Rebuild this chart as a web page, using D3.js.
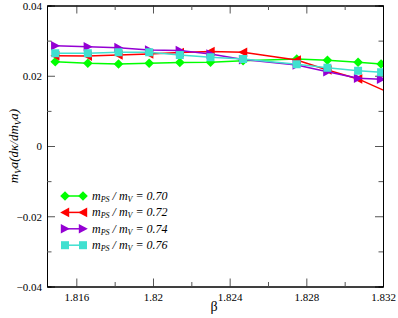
<!DOCTYPE html>
<html>
<head>
<meta charset="utf-8">
<script src="https://cdn.jsdelivr.net/npm/d3@7"></script>
<style>
body { margin: 0; background: #fff; }
svg text { font-family: "Liberation Serif", "Times New Roman", Times, "DejaVu Serif", serif; }
</style>
</head>
<body>
<div id="chart"></div>
<script>
// data
var beta = [1.8149, 1.8166, 1.8182, 1.8198, 1.8214, 1.8230, 1.8247, 1.8275, 1.8291, 1.8307, 1.8319];
var betaRed = [1.8149, 1.8166, 1.8182, 1.8198, 1.8214, 1.8230, 1.8247, 1.8275, 1.8291, 1.8307, 1.8323];
var s070 = [0.0240, 0.02355, 0.02335, 0.02355, 0.0238, 0.02383, 0.0243, 0.02477, 0.0244, 0.02383, 0.02335];
var s072 = [0.0257, 0.0256, 0.0259, 0.0262, 0.0266, 0.0269, 0.02668, 0.02448, 0.02164, 0.0191, 0.0152];
var s074 = [0.02855, 0.02827, 0.0280, 0.0273, 0.0272, 0.0262, 0.0246, 0.02306, 0.02115, 0.01927, 0.0190];
var s076 = [0.0264, 0.0264, 0.02668, 0.02668, 0.0259, 0.02525, 0.02477, 0.02326, 0.02229, 0.02144, 0.02098];
var ratios = ["0.70", "0.72", "0.74", "0.76"];
var xTicks = [1.816, 1.82, 1.824, 1.828, 1.832];
var yTicks = [-0.04, -0.02, 0, 0.02, 0.04];

var series = [
    { xs: beta, ys: s070, color: "#00ff00", shape: "diamond" },
    { xs: betaRed, ys: s072, color: "#ff0000", shape: "left" },
    { xs: beta, ys: s074, color: "#9400d3", shape: "right" },
    { xs: beta, ys: s076, color: "#40e0d0", shape: "square" }
];

var width = 398, height = 318;
var pL = 47, pR = 383, pT = 5.5, pB = 286.5;
var serif = '"Liberation Serif", "Times New Roman", Times, "DejaVu Serif", serif';

var x = d3.scaleLinear().domain([1.81447, 1.832]).range([pL, pR]);
var y = d3.scaleLinear().domain([-0.04, 0.04]).range([pB, pT]);

var svg = d3.select('#chart').append('svg')
    .attr('width', width)
    .attr('height', height)
    .attr('font-family', serif);

svg.append('rect').attr('width', width).attr('height', height).attr('fill', '#fff');

svg.append('clipPath').attr('id', 'clip')
    .append('rect').attr('x', pL).attr('y', pT)
    .attr('width', pR - pL).attr('height', pB - pT);

function markerPath(shape) {
    if (shape == "diamond") return "M0,-4.8L4.8,0L0,4.8L-4.8,0Z";
    if (shape == "square") return "M-4,-4H4V4H-4Z";
    if (shape == "left") return "M-4.8,0L4.2,-4.8L4.2,4.8Z";
    return "M4.8,0L-4.2,-4.8L-4.2,4.8Z";
}

// axes: ticks inward on all sides
var xMinor = [1.818, 1.822, 1.826, 1.830];
var yMinor = [-0.03, -0.01, 0.01, 0.03];

function fmtX(d) { return String(+d.toFixed(3)); }
function fmtY(d) { return d == 0 ? "0" : d3.format('.2f')(d); }

svg.append('g').attr('transform', 'translate(0,' + pB + ')')
    .call(d3.axisBottom(x).tickValues(xTicks).tickSize(-8).tickPadding(7).tickFormat(fmtX));
svg.append('g').attr('transform', 'translate(0,' + pT + ')')
    .call(d3.axisTop(x).tickValues(xTicks).tickSize(-8).tickFormat(''));
var axL = svg.append('g').attr('transform', 'translate(' + pL + ',0)')
    .call(d3.axisLeft(y).tickValues(yTicks).tickSize(-8).tickFormat(fmtY));
svg.append('g').attr('transform', 'translate(' + pR + ',0)')
    .call(d3.axisRight(y).tickValues(yTicks).tickSize(-8).tickFormat(''));

svg.append('g').attr('transform', 'translate(0,' + pB + ')')
    .call(d3.axisBottom(x).tickValues(xMinor).tickSize(-4.5).tickFormat(''));
svg.append('g').attr('transform', 'translate(0,' + pT + ')')
    .call(d3.axisTop(x).tickValues(xMinor).tickSize(-4.5).tickFormat(''));
svg.append('g').attr('transform', 'translate(' + pL + ',0)')
    .call(d3.axisLeft(y).tickValues(yMinor).tickSize(-4.5).tickFormat(''));
svg.append('g').attr('transform', 'translate(' + pR + ',0)')
    .call(d3.axisRight(y).tickValues(yMinor).tickSize(-4.5).tickFormat(''));

svg.selectAll('.domain').attr('stroke', '#000');
svg.selectAll('.tick line').attr('stroke', '#555');
svg.selectAll('g').attr('font-family', serif);
svg.selectAll('.tick text')
    .attr('font-size', 11)
    .attr('fill', '#000');
axL.selectAll('.tick text').attr('x', -5).attr('dy', '0.35em');

// lines + markers
var plot = svg.append('g').attr('clip-path', 'url(#clip)');
var line = d3.line()
    .x(function (d) { return x(d[0]); })
    .y(function (d) { return y(d[1]); });

series.forEach(function (s) {
    var pts = s.xs.map(function (v, i) { return [v, s.ys[i]]; });
    plot.append('path')
        .attr('d', line(pts))
        .attr('fill', 'none')
        .attr('stroke', s.color)
        .attr('stroke-width', 1.5);
    plot.selectAll(null)
        .data(pts)
        .enter()
        .append('path')
        .attr('d', markerPath(s.shape))
        .attr('transform', function (d) { return 'translate(' + x(d[0]) + ',' + y(d[1]) + ')'; })
        .attr('fill', s.color);
});

// legend
var leg = svg.append('g');
series.forEach(function (s, i) {
    var ly = 196 + i * 16.4;
    leg.append('line').attr('x1', 65).attr('x2', 83).attr('y1', ly).attr('y2', ly)
        .attr('stroke', s.color).attr('stroke-width', 1.5);
    [65, 83].forEach(function (lx) {
        leg.append('path').attr('d', markerPath(s.shape))
            .attr('transform', 'translate(' + lx + ',' + ly + ')')
            .attr('fill', s.color);
    });
    var t = leg.append('text').attr('x', 92).attr('y', ly + 4)
        .attr('font-size', 12).attr('font-style', 'italic');
    t.append('tspan').text('m');
    t.append('tspan').attr('baseline-shift', '-30%').attr('font-size', 8).text('PS');
    t.append('tspan').text(' / m');
    t.append('tspan').attr('baseline-shift', '-30%').attr('font-size', 8).text('V');
    t.append('tspan').text(' = ' + ratios[i]);
});

// axis titles
svg.append('text').attr('x', 214).attr('y', 311)
    .attr('text-anchor', 'middle').attr('font-size', 14).text('β');

var yl = svg.append('text')
    .attr('transform', 'translate(18,146) rotate(-90)')
    .attr('text-anchor', 'middle')
    .attr('font-size', 13).attr('font-style', 'italic');
yl.append('tspan').text('m');
yl.append('tspan').attr('baseline-shift', '-30%').attr('font-size', 9).text('V');
yl.append('tspan').text('a(dκ/dm');
yl.append('tspan').attr('baseline-shift', '-30%').attr('font-size', 9).text('V');
yl.append('tspan').text('a)');
</script>
</body>
</html>
